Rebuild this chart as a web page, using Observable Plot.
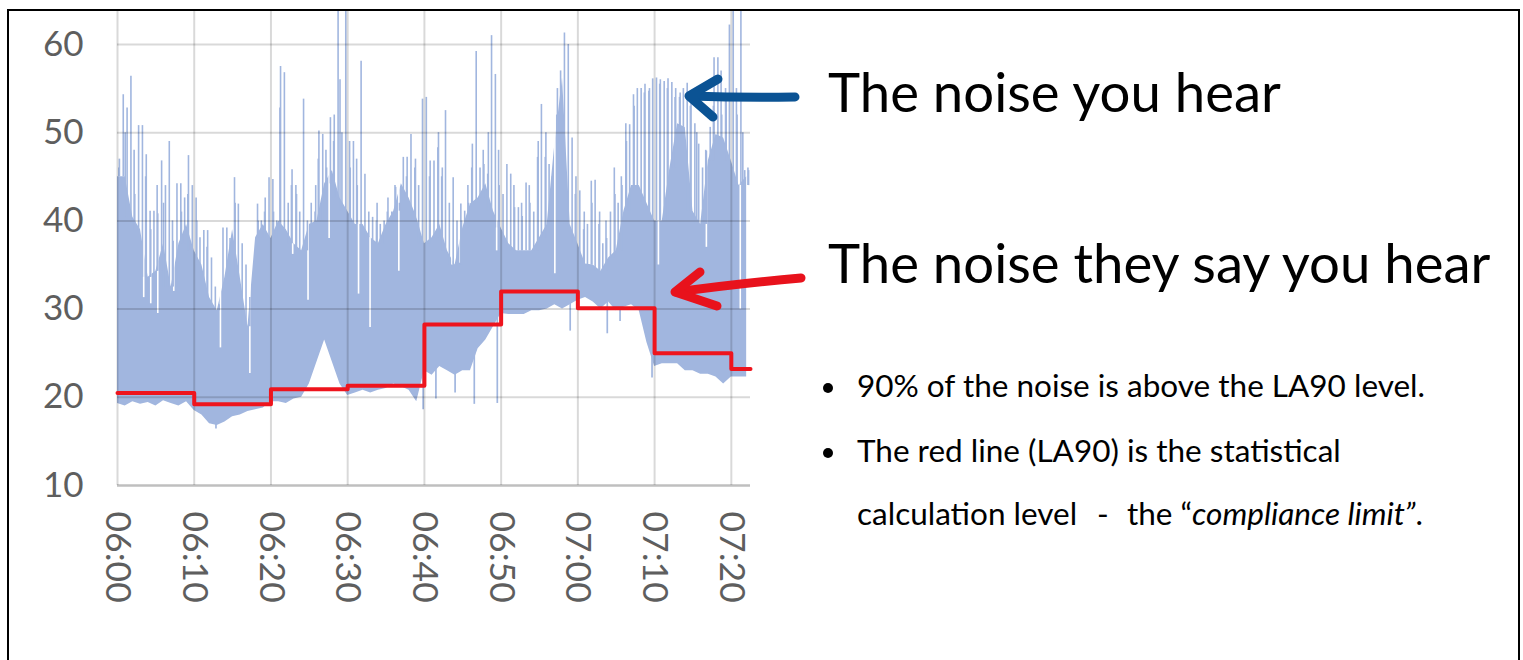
<!DOCTYPE html>
<html><head><meta charset="utf-8">
<script src="https://cdn.jsdelivr.net/npm/d3@7"></script>
<script src="https://cdn.jsdelivr.net/npm/@observablehq/plot@0.6"></script>
<style>
html,body{margin:0;padding:0;background:#fff;width:1523px;height:660px;overflow:hidden}
#wrap{position:relative;width:1523px;height:660px}
#chart{position:absolute;left:0;top:0}
#frame{position:absolute;left:7px;top:9px;width:1513px;height:720px;border:2px solid #000;border-bottom:none;box-sizing:border-box;pointer-events:none}
#notes{position:absolute;left:0;top:0;pointer-events:none}
</style></head>
<body><div id="wrap"><div id="chart"></div><svg id="notes" width="1523" height="660"></svg><div id="frame"></div></div>
<script>
// ---- tick labels ----
const xTickLabels = ["06:00","06:10","06:20","06:30","06:40","06:50","07:00","07:10","07:20"];
const yTicks = [10, 20, 30, 40, 50, 60];

// ---- LA90 (red step line), one value per 10-minute period ----
const la90Start = ["06:00","06:10","06:20","06:30","06:40","06:50","07:00","07:10","07:20"];
const la90 = [20.5, 19.2, 20.9, 21.3, 28.25, 32.0, 30.1, 25.0, 23.2];

// ---- measured noise (blue), one reading per minute from 06:00 ----
// lower edge of the trace (dB)
const noiseLow = [
 19.3,19.0,19.5,19.2,19.4,19.0,19.6,19.3,19.0,19.5,
 18.5,18.0,17.0,16.8,17.2,17.8,18.0,18.4,18.6,18.8,
 19.5,19.5,19.3,19.8,20.0,21.5,24.0,26.5,24.0,21.5,
 20.2,20.5,20.8,20.5,20.8,21.0,21.5,21.2,20.8,19.5,
 23.0,22.5,23.5,23.0,22.5,23.0,23.0,25.5,26.5,28.0,
 29.5,29.4,29.4,29.4,29.8,29.8,30.0,30.5,30.0,30.5,
 31.0,31.3,30.8,30.0,30.8,29.8,30.2,30.5,29.8,26.2,
 23.5,23.8,23.8,23.8,23.0,23.0,22.6,22.6,22.3,21.5,
 22.3,22.3,22.3];
// upper edge of the dense part of the trace (dB)
const noiseBody = [
 45.0,45.0,40.4,39.0,33.6,34.3,37.4,32.5,37.4,39.6,
 36.6,35.0,31.3,29.8,33.6,39.0,33.6,28.0,38.1,39.6,
 38.0,40.0,39.0,37.4,36.6,39.6,40.0,44.2,45.7,42.6,
 41.1,39.6,39.6,38.1,37.4,39.6,41.1,44.2,42.6,40.4,
 37.4,38.1,39.6,36.6,35.0,39.2,41.9,42.6,44.2,41.1,
 39.2,37.4,36.6,36.6,36.6,38.1,39.6,48.7,56.2,39.6,
 37.4,35.1,35.0,34.3,35.8,36.6,41.1,44.0,44.0,42.0,
 40.0,40.0,46.0,51.0,50.6,41.1,39.6,46.8,49.8,49.4,
 46.8,44.0,45.0];
// peak level in each half minute from 06:00 (dB)
const noisePeak = [
 47.0,54.3,52.8,56.4,43.0,50.8,50.8,47.5,41.1,41.1,
 40.8,46.8,44.0,49.0,37.7,44.2,44.2,42.6,47.4,44.0,
 42.6,38.1,38.9,38.9,35.8,32.5,30.5,39.2,39.2,36.2,
 44.9,41.9,37.4,35.0,31.3,33.0,41.9,40.0,42.6,44.9,
 44.7,40.0,57.5,56.8,42.0,45.8,44.0,41.0,53.8,40.0,
 42.0,41.0,50.2,49.8,46.0,51.7,52.0,63.8,50.0,63.8,
 49.0,49.0,44.0,58.1,45.3,41.0,40.4,40.0,39.6,40.0,
 42.6,41.0,43.8,42.0,47.2,47.2,49.8,46.0,44.0,53.8,
 54.0,46.8,46.8,48.3,45.0,52.5,42.0,44.9,40.0,41.9,
 41.1,42.0,48.7,59.2,46.0,46.4,45.3,61.0,56.6,44.0,
 43.0,46.4,45.3,41.5,41.5,40.5,44.3,42.0,41.0,47.2,
 53.2,47.2,46.4,44.0,52.0,57.0,61.3,60.0,49.4,45.0,
 43.4,39.0,39.6,44.5,44.6,39.6,37.4,38.0,41.0,46.0,
 42.0,44.0,51.0,50.9,54.3,55.0,55.0,55.5,54.7,56.1,
 56.2,56.0,55.8,56.1,55.7,55.0,54.0,55.0,55.6,54.3,
 51.0,48.7,46.0,47.9,50.6,58.5,58.5,52.0,55.0,62.2,
 63.8,52.0,63.8,45.7,45.7];
// further individual spikes: time, level (dB)
const spikeTime = [
 "06:00:10","06:01:00","06:02:10","06:03:40","06:04:20","06:05:10","06:06:00","06:07:10","06:08:20","06:09:10",
 "06:10:20","06:11:40","06:14:40","06:15:20","06:18:20","06:19:10","06:20:20","06:21:10","06:22:40","06:23:20",
 "06:25:50","06:26:10","06:27:10","06:28:10","06:29:00","06:30:20","06:31:10","06:33:50","06:35:10","06:36:10",
 "06:37:40","06:38:50","06:40:40","06:41:50","06:42:20","06:44:50","06:45:40","06:46:10","06:47:40","06:48:20",
 "06:49:40","06:51:40","06:52:40","06:53:40","06:54:50","06:55:50","06:56:40","06:57:20","06:59:40","07:00:50",
 "07:01:50","07:02:50","07:03:40","07:04:50","07:05:40","07:06:20","07:07:20","07:08:40","07:09:20","07:10:40",
 "07:11:40","07:12:40","07:13:20","07:14:40","07:15:30","07:16:40","07:17:40","07:18:40","07:19:20","07:20:40",
 "07:21:30","07:22:10"];
const spikeLevel = [
 46,50,48,45,39,44,42,40,41,43,
 40,37,38,42,40,41,41,52.8,44,43,
 44,47,48,49,56,46,47,42,41,44,
 45,47,45,50,46,40,44,46,48,50,
 48,44,42,44,49,50,45,55,43,41,
 42,41,40,43,45,49,53,54.5,55,55.5,
 55,54,54.5,53,50,48,53,57,54,55,
 50,46];
// short downward dips below the lower edge: time, level (dB)
const dipTime = ["06:12:50","06:39:50","06:46:30","06:49:30","06:59:00","07:03:50","07:09:40","07:05:30","06:41:30","06:44:00"];
const dipLevel = [16.4, 18.6, 19.2, 19.3, 27.5, 27.2, 22.2, 28.6, 19.8, 20.5];
// brief quiet moments (white streaks down into the trace): time, level (dB)
const quietTime = ["06:03:25","06:04:20","06:05:15","06:07:20","06:12:10","06:13:25","06:17:15","06:22:50",
 "06:24:50","06:27:35","06:31:25","06:32:55","06:36:40","06:43:35","06:44:40","06:49:25","06:57:00","07:00:55","07:10:30","07:16:45","07:21:10"];
const quietLevel = [31.3, 30.6, 29.5, 32, 31.7, 25.6, 22.7, 36.2,
 31, 38, 31.7, 27.9, 34.3, 35, 35.2, 36.6, 34, 37.4, 35, 37, 30];

// ---- helpers ----
const toMin = s => { const p = s.split(":").map(Number); return (p[0]-6)*60 + p[1] + (p[2]||0)/60; };
const xEnd = 82.5; // right edge of the cropped chart
const seg = (arr, t) => { const i = Math.min(Math.floor(t), arr.length-2); return [arr[i], arr[i+1]]; };

const body = noiseLow.map((lo, i) => ({t: i, lo, hi: noiseBody[i]}));
const peaks = noisePeak.map((p, k) => ({t: k*0.5 + 0.25, p}))
  .concat(spikeTime.map((s, j) => ({t: toMin(s), p: spikeLevel[j]})))
  .map(d => ({...d, base: Math.min(...seg(noiseBody, d.t))}));
const dips = dipTime.map((s, j) => { const t = toMin(s); return {t, base: Math.max(...seg(noiseLow, t)), v: dipLevel[j]}; });
const quiet = quietTime.map((s, j) => { const t = toMin(s); return {t, top: Math.max(...seg(noiseBody, t)), v: quietLevel[j]}; });
const redData = la90Start.map((s, i) => ({t: toMin(s), v: la90[i]}));
redData.push({t: xEnd, v: la90[la90.length-1]});
const xTicks = xTickLabels.map(s => ({t: toMin(s), label: s}));

const blue = "#a1b6df";
const gridC = "black";

const chart = Plot.plot({
  width: 1523, height: 660,
  marginLeft: 117, marginRight: 773, marginTop: 10, marginBottom: 175,
  style: {fontFamily: "Lato, 'Open Sans', sans-serif", background: "transparent"},
  x: {domain: [0, xEnd], axis: null},
  y: {domain: [10, 63.85], axis: null},
  marks: [
    Plot.areaY(body, {x: "t", y1: "lo", y2: "hi", fill: blue, clip: true}),
    Plot.ruleX(quiet, {x: "t", y1: "top", y2: "v", stroke: "white", strokeWidth: 1.6, clip: true}),
    Plot.ruleX(peaks, {x: "t", y1: "base", y2: "p", stroke: blue, strokeWidth: 1.6, clip: true}),
    Plot.ruleX(dips, {x: "t", y1: "base", y2: "v", stroke: blue, strokeWidth: 1.7, clip: true}),
    Plot.gridY(yTicks.slice(1), {stroke: gridC, strokeOpacity: 0.15, strokeWidth: 2}),
    Plot.gridX(xTicks.map(d => d.t), {stroke: gridC, strokeOpacity: 0.15, strokeWidth: 2}),
    Plot.ruleY([10], {stroke: gridC, strokeOpacity: 0.25, strokeWidth: 2.5}),
    Plot.line(redData, {x: "t", y: "v", curve: "step-after", stroke: "#ee141d", strokeWidth: 4}),
    Plot.text(yTicks, {y: d => d, frameAnchor: "left", textAnchor: "end", dx: -34, text: d => String(d), fontSize: 35, fill: "#5e5e5e"}),
    Plot.text(xTicks, {x: "t", frameAnchor: "bottom", rotate: 90, textAnchor: "start", lineAnchor: "middle", dy: 26, text: "label", fontSize: 35.5, fill: "#5e5e5e"})
  ]
});
document.getElementById("chart").append(chart);

// ---- annotations ----
const ns = "http://www.w3.org/2000/svg";
const notes = document.getElementById("notes");
notes.setAttribute("font-family", "Lato, 'Open Sans', sans-serif");
function el(tag, attrs, parent = notes) {
  const e = document.createElementNS(ns, tag);
  for (const k in attrs) e.setAttribute(k, attrs[k]);
  parent.append(e); return e;
}
const arrowStyle = {fill: "none", "stroke-width": 9, "stroke-linecap": "round", "stroke-linejoin": "round"};
el("path", {...arrowStyle, stroke: "#0b5394", d: "M795,97 Q745,98 690,96"});
el("path", {...arrowStyle, stroke: "#0b5394", d: "M718,79 L689,96 L713,117"});
el("path", {...arrowStyle, stroke: "#e8121c", d: "M801,278 Q742,283 676,292"});
el("path", {...arrowStyle, stroke: "#e8121c", d: "M700,272 L675,292 L717,306"});

const t1 = el("text", {x: 828, y: 112, "font-size": 54.5, fill: "#000"}); t1.textContent = "The noise you hear";
const t2 = el("text", {x: 828, y: 283, "font-size": 54.5, fill: "#000"}); t2.textContent = "The noise they say you hear";
el("circle", {cx: 828, cy: 388, r: 5, fill: "#000"});
el("circle", {cx: 828, cy: 453, r: 5, fill: "#000"});
const b1 = el("text", {x: 857, y: 397, "font-size": 31.5}); b1.textContent = "90% of the noise is above the LA90 level.";
const b2 = el("text", {x: 857, y: 462, "font-size": 31.5}); b2.textContent = "The red line (LA90) is the statistical";
const b3 = el("text", {y: 525, "font-size": 31.5});
const s1 = el("tspan", {x: 857}, b3); s1.textContent = "calculation level";
const s2 = el("tspan", {x: 1097}, b3); s2.textContent = "-";
const s3 = el("tspan", {x: 1127}, b3); s3.textContent = "the \u201C";
const s4 = el("tspan", {"font-style": "italic"}, b3); s4.textContent = "compliance limit\u201D";
const s5 = el("tspan", {}, b3); s5.textContent = ".";
</script>
</body></html>
